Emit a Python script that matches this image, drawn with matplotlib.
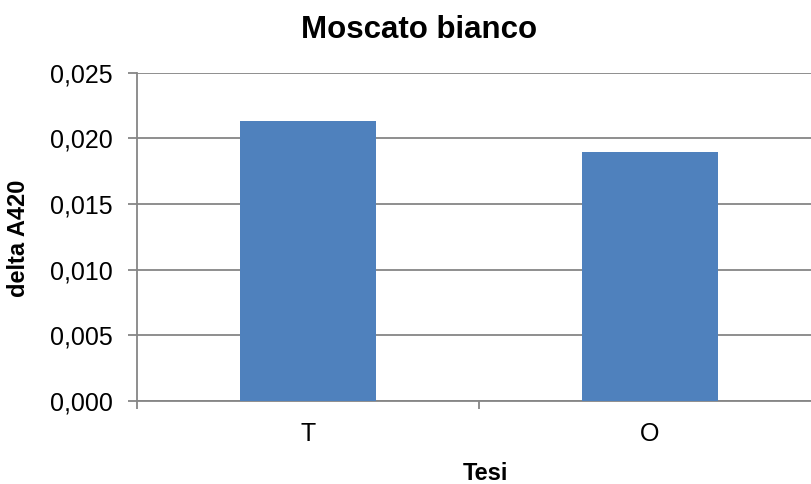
import matplotlib
matplotlib.use("Agg")
import matplotlib.pyplot as plt
from matplotlib.ticker import FuncFormatter, FixedLocator

plt.rcParams['font.family'] = ['Liberation Sans', 'DejaVu Sans']

categories = ['T', 'O']
values = [0.02134, 0.01893]
y_ticks = [0.000, 0.005, 0.010, 0.015, 0.020, 0.025]

bar_color = '#4F81BD'
axis_color = '#868686'

fig = plt.figure(figsize=(8.11, 4.84), dpi=100)
ax = fig.add_axes([137 / 811, 1 - 401 / 484, 684 / 811, (401 - 72.7) / 484])

x = list(range(len(categories)))
ax.bar(x, values, width=0.4, color=bar_color, zorder=3)

ax.set_xlim(-0.5, len(categories) - 0.5)
ax.set_ylim(0, 0.025)
ax.set_yticks(y_ticks)
ax.yaxis.set_major_formatter(FuncFormatter(lambda v, p: ('%.3f' % v).replace('.', ',')))
ax.set_xticks(x)
ax.set_xticklabels(categories)
ax.xaxis.set_minor_locator(FixedLocator([i - 0.5 for i in range(len(categories) + 1)]))

ax.grid(axis='y', color=axis_color, linewidth=1.3, zorder=0)
ax.set_axisbelow(True)

for side in ['top', 'right']:
    ax.spines[side].set_visible(False)
for side in ['left', 'bottom']:
    ax.spines[side].set_color(axis_color)
    ax.spines[side].set_linewidth(1.3)

ax.tick_params(axis='y', direction='out', length=6.5, width=1.3, color=axis_color,
               labelsize=18, pad=11)
ax.tick_params(axis='x', which='major', length=0, labelsize=18, pad=15)
ax.tick_params(axis='x', which='minor', direction='out', length=6, width=1.3,
               color=axis_color)

fig.text(419 / 811, 1 - 30 / 484, 'Moscato bianco', ha='center', va='center',
         fontsize=22.5, fontweight='bold')
fig.text(19 / 811, 1 - 238 / 484, 'delta A420', ha='center', va='center',
         rotation=90, fontsize=17, fontweight='bold')
fig.text(485 / 811, 1 - 474 / 484, 'Tesi', ha='center', va='center',
         fontsize=17, fontweight='bold')

fig.savefig('out.png', dpi=100)
